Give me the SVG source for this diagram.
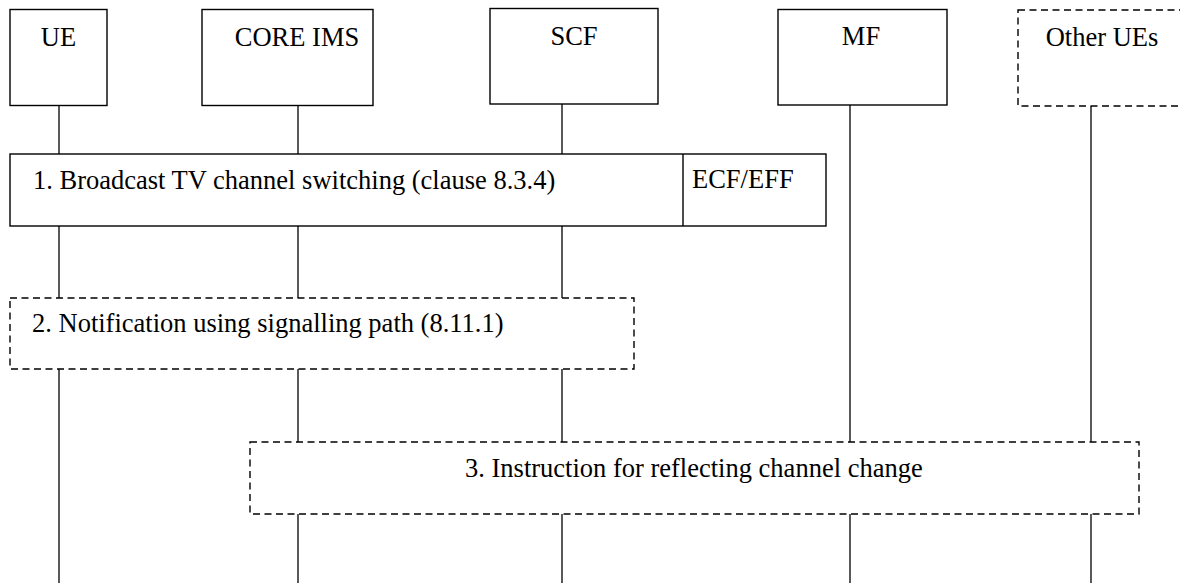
<svg xmlns="http://www.w3.org/2000/svg" width="1180" height="583" viewBox="0 0 1180 583">
<style>
.box{fill:#fff;stroke:#000;stroke-width:1.4}
.dash{fill:#fff;stroke:#000;stroke-width:1.4;stroke-dasharray:7 4.5}
.life{stroke:#000;stroke-width:1.3;fill:none}
text{font-family:"Liberation Serif","Times New Roman",serif;font-size:26.5px;fill:#000}
</style>
<rect width="1180" height="583" fill="#fff"/>
<g id="connectors">
<path class="life" d="M59,106V154M59,226V298M59,369V583"/>
<path class="life" d="M298,106V154M298,226V298M298,369V442M298,514V583"/>
<path class="life" d="M562,104V154M562,226V298M562,369V442M562,514V583"/>
<path class="life" d="M850,105V442M850,514V583"/>
<path class="life" d="M1091,106V442M1091,514V583"/>
</g>
<g id="node-ue"><rect class="box" x="10" y="9.5" width="97" height="96"/><text x="58.5" y="46" text-anchor="middle">UE</text></g>
<g id="node-core-ims"><rect class="box" x="202" y="9.5" width="171" height="96"/><text x="297" y="46" text-anchor="middle">CORE IMS</text></g>
<g id="node-scf"><rect class="box" x="490" y="8.5" width="168" height="95.5"/><text x="574" y="45" text-anchor="middle">SCF</text></g>
<g id="node-mf"><rect class="box" x="778" y="9.5" width="169" height="95.5"/><text x="861" y="45" text-anchor="middle">MF</text></g>
<g id="node-other-ues"><rect class="dash" x="1018" y="10" width="170" height="96"/><text x="1102" y="46" text-anchor="middle">Other UEs</text></g>
<g id="step-1"><rect class="box" x="10" y="154" width="816" height="72"/><line x1="683" y1="154" x2="683" y2="226" stroke="#000" stroke-width="1.4"/><text x="33" y="189">1. Broadcast TV channel switching (clause 8.3.4)</text><text x="692" y="188">ECF/EFF</text></g>
<g id="step-2"><rect class="dash" x="10" y="298" width="624" height="71"/><text x="32" y="332">2. Notification using signalling path (8.11.1)</text></g>
<g id="step-3"><rect class="dash" x="250" y="442" width="889" height="72"/><text x="465" y="477">3. Instruction for reflecting channel change</text></g>
</svg>
